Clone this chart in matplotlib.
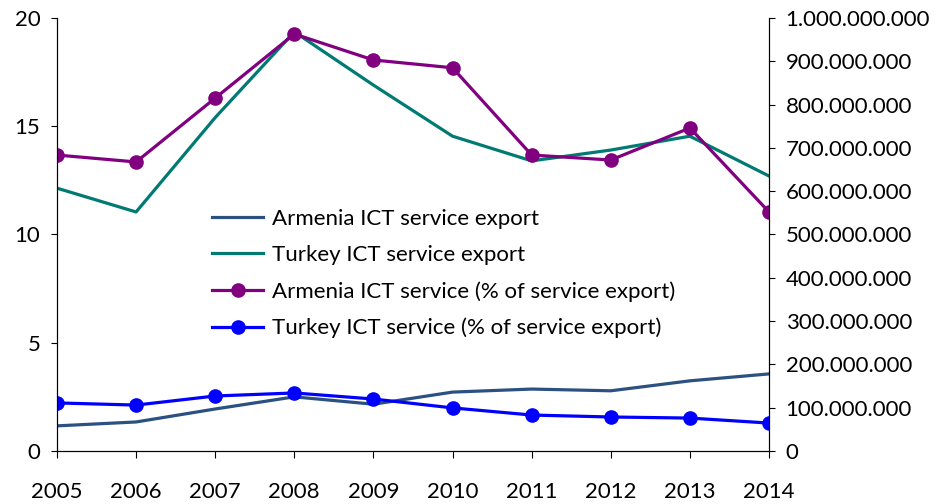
import numpy as np
import matplotlib
matplotlib.use('Agg')
import matplotlib.pyplot as plt
from matplotlib.ticker import FuncFormatter

plt.rcParams['font.family'] = ['Lato', 'DejaVu Sans']

YEARS = [2005, 2006, 2007, 2008, 2009, 2010, 2011, 2012, 2013, 2014]
ARMENIA_EXPORT = [58e6, 67e6, 97e6, 125e6, 108e6, 136e6, 143e6, 139e6, 162e6, 178e6]
TURKEY_EXPORT = [607e6, 552e6, 770e6, 968e6, 845e6, 727e6, 670e6, 695e6, 727e6, 635e6]
ARMENIA_PCT = [13.67, 13.35, 16.3, 19.26, 18.06, 17.7, 13.67, 13.44, 14.92, 11.04]
TURKEY_PCT = [2.22, 2.12, 2.54, 2.68, 2.4, 1.99, 1.66, 1.57, 1.52, 1.29]


def dot_thousands(v, pos):
    return f'{int(round(v)):,}'.replace(',', '.')


def main():
    fig = plt.figure(figsize=(9.43, 5.04), dpi=100)
    ax = fig.add_axes([0.0604, 0.1052, 0.7551, 0.8591])
    ax2 = ax.twinx()
    ax.set_zorder(ax2.get_zorder() + 1)
    ax.patch.set_visible(False)

    x = np.array(YEARS)
    l1, = ax2.plot(x, ARMENIA_EXPORT, color='#2B5182', lw=2.3, label='Armenia ICT service export')
    l2, = ax2.plot(x, TURKEY_EXPORT, color='#007A72', lw=2.3, label='Turkey ICT service export')
    l3, = ax.plot(x, ARMENIA_PCT, color='#800080', lw=2.3, marker='o', ms=9.5,
                  label='Armenia ICT service (% of service export)')
    l4, = ax.plot(x, TURKEY_PCT, color='#0000FF', lw=2.3, marker='o', ms=9.5,
                  label='Turkey ICT service (% of service export)')

    ax.set_xlim(2005, 2014)
    ax.set_ylim(0, 20)
    ax2.set_ylim(0, 1e9)
    ax.set_yticks([0, 5, 10, 15, 20])
    ax2.set_yticks(np.arange(0, 1.01e9, 1e8))
    ax2.yaxis.set_major_formatter(FuncFormatter(dot_thousands))
    ax.set_xticks(YEARS)

    for a in (ax, ax2):
        a.spines['top'].set_visible(False)
        for s in a.spines.values():
            s.set_linewidth(0.8)
        a.tick_params(labelsize=16, length=4, width=0.8, direction='out', pad=8)
    ax.tick_params(axis='x', length=5, pad=17)

    ax.legend(handles=[l1, l2, l3, l4], loc='upper left', bbox_to_anchor=(0.19, 0.606),
              frameon=False, fontsize=16, handlelength=2.3, labelspacing=0.73,
              handletextpad=0.4)

    fig.savefig('out.png', dpi=100)
    plt.close(fig)


if __name__ == '__main__':
    main()
